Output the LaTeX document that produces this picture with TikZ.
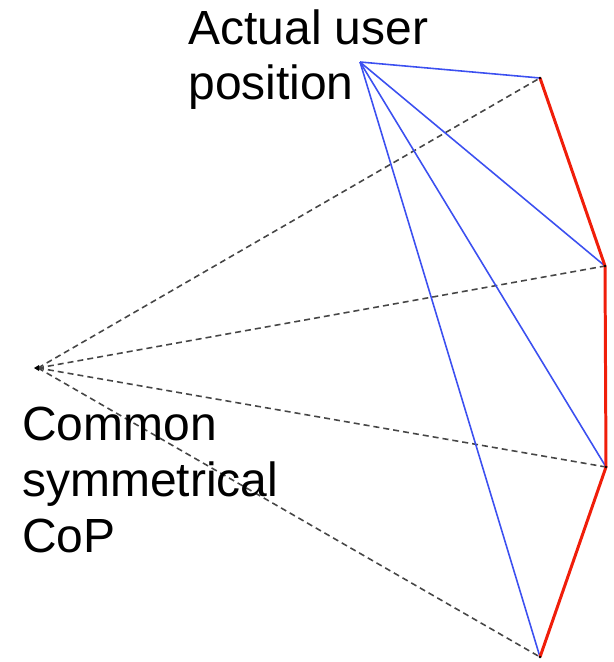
\documentclass[tikz,border=0pt]{standalone}
\usepackage{fontspec}
\setmainfont{Liberation Sans}
\usepackage{tikz}
\usepackage{xcolor}

\definecolor{rayblue}{RGB}{60,80,240}
\definecolor{edgered}{RGB}{240,30,10}
\definecolor{dashgray}{RGB}{70,70,70}

\begin{document}
\begin{tikzpicture}[x=0.02cm, y=-0.02cm,
    label text/.style={anchor=base west, inner sep=0pt, align=left,
        font=\fontsize{27.3}{31.8}\selectfont},
    user ray/.style={rayblue, line width=0.9pt},
    cop ray/.style={dashgray, line width=0.9pt, dash pattern=on 3.4pt off 2.3pt},
    screen edge/.style={edgered, line width=1.7pt, line join=round}]
\useasboundingbox (0,0) rectangle (613,662);

% Points
\coordinate (user) at (360,62);
\coordinate (cop) at (38,368);
\coordinate (s1) at (540,78);
\coordinate (s2) at (605,266);
\coordinate (s3) at (606,467);
\coordinate (s4) at (540,657);

% Dashed rays from the common CoP
\foreach \s in {s1,s2,s3,s4}
    \draw[cop ray] (cop) -- (\s);

% Rays from the actual user position
\foreach \s in {s1,s2,s3,s4}
    \draw[user ray] (user) -- (\s);

% Display edge
\draw[screen edge] (s1) -- (s2) -- (s3) -- (s4);

% Markers
\foreach \s in {s1,s2,s3,s4}
    \fill[black] (\s) circle (1.4);
\fill[black] (cop) ++(-4,0) -- ++(5,-3) -- ++(0,6) -- cycle;

% Labels (anchored at the baseline of the last line)
\node[label text] (userlabel) at (188,100) {Actual user\\position};
\node[label text] (coplabel) at (22,552) {Common\\symmetrical\\CoP};
\end{tikzpicture}
\end{document}
